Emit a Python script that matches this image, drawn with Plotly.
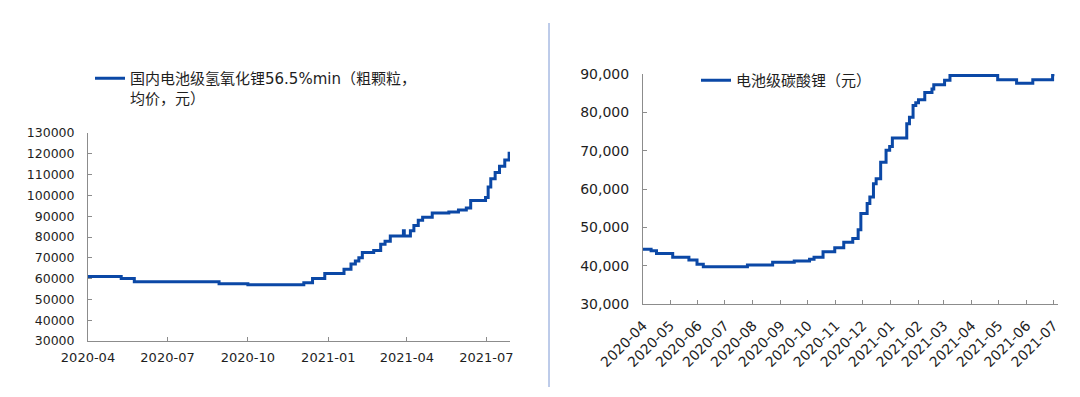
import plotly.graph_objects as go

# Left chart: 国内电池级氢氧化锂56.5%min（粗颗粒，均价，元）
left_dates = ["2020-04-01", "2020-05-09", "2020-05-24", "2020-08-29", "2020-10-01",
              "2020-12-04", "2020-12-14", "2020-12-28", "2021-01-19", "2021-01-27",
              "2021-02-01", "2021-02-05", "2021-02-09", "2021-02-22", "2021-03-02",
              "2021-03-07", "2021-03-13", "2021-03-28", "2021-03-29", "2021-04-05",
              "2021-04-09", "2021-04-14", "2021-04-19", "2021-04-30", "2021-05-19",
              "2021-05-30", "2021-06-08", "2021-06-13", "2021-06-30", "2021-07-03",
              "2021-07-06", "2021-07-11", "2021-07-16", "2021-07-22", "2021-07-27"]
left_values = [61000, 60000, 58500, 57500, 57000,
               58000, 60000, 62500, 64500, 67000,
               68500, 70000, 72500, 73500, 76500,
               78000, 80500, 83000, 80500, 83000,
               85500, 88000, 89500, 91500, 92000,
               93000, 94000, 97500, 99000, 104000,
               108000, 111000, 114000, 117000, 121000]

# Right chart: 电池级碳酸锂（元）
right_dates = ["2020-04-01", "2020-04-10", "2020-04-16", "2020-05-04", "2020-05-22",
               "2020-05-31", "2020-06-07", "2020-07-26", "2020-08-23", "2020-09-16",
               "2020-10-03", "2020-10-08", "2020-10-18", "2020-10-31", "2020-11-10",
               "2020-11-20", "2020-11-26", "2020-11-29", "2020-12-06", "2020-12-09",
               "2020-12-13", "2020-12-16", "2020-12-21", "2020-12-27", "2020-12-31",
               "2021-01-03", "2021-01-19", "2021-01-22", "2021-01-26", "2021-01-29",
               "2021-02-01", "2021-02-08", "2021-02-16", "2021-02-18", "2021-03-02",
               "2021-03-08", "2021-04-30", "2021-05-21", "2021-06-08", "2021-06-30",
               "2021-07-02"]
right_values = [44300, 43900, 43200, 42200, 41500,
                40400, 39700, 40200, 40900, 41200,
                41700, 42200, 43600, 44700, 46100,
                47100, 49400, 53600, 56200, 57900,
                61400, 62700, 67000, 70100, 71100,
                73300, 77000, 78700, 81800, 82500,
                83300, 85200, 86100, 87200, 88400,
                89600, 88500, 87600, 88500, 89800,
                89800]

left_name = "国内电池级氢氧化锂56.5%min（粗颗粒，<br>均价，元）"
right_name = "电池级碳酸锂（元）"

LINE = "#0b48a6"
AXIS = "#8c8c8c"
TXT = "#1e1e1e"
FONT = "DejaVu Sans, Noto Sans CJK SC, sans-serif"

# page body has an 8px margin; figure sized to fit the window exactly
OFF = 8
W, H = 1080 - 2 * OFF, 397 - 2 * OFF


def px(p):
    return (p - OFF) / W


def py(p):
    return 1 - (p - OFF) / H


fig = go.Figure()
fig.add_trace(go.Scatter(x=left_dates, y=left_values, mode="lines", name=left_name,
                         line=dict(color=LINE, width=3, shape="hv"),
                         xaxis="x", yaxis="y", legend="legend"))
fig.add_trace(go.Scatter(x=right_dates, y=right_values, mode="lines", name=right_name,
                         line=dict(color=LINE, width=3, shape="hv"),
                         xaxis="x2", yaxis="y2", legend="legend2"))

common_axis = dict(showgrid=False, zeroline=False, showline=True, linecolor=AXIS,
                   linewidth=1, ticks="inside", ticklen=4, tickcolor=AXIS,
                   automargin=False)

fig.update_layout(
    width=W, height=H,
    margin=dict(l=0, r=0, t=0, b=0, autoexpand=False),
    paper_bgcolor="white", plot_bgcolor="white",
    font=dict(family=FONT, color=TXT),
    xaxis=dict(domain=[px(88), px(510)], anchor="y", type="date",
               range=["2020-04-01", "2021-07-28"], tick0="2020-04-01", dtick="M3",
               tickformat="%Y-%m", ticklabelstandoff=4,
               tickfont=dict(family=FONT, color=TXT, size=13), **common_axis),
    yaxis=dict(domain=[py(341), py(133)], anchor="x", range=[30000, 130000],
               dtick=10000, tickformat="d", ticklabelstandoff=10,
               tickfont=dict(family=FONT, color=TXT, size=12.5), **common_axis),
    xaxis2=dict(domain=[px(643), px(1058)], anchor="y2", type="date",
                range=["2020-04-01", "2021-07-06"], tick0="2020-04-01", dtick="M1",
                tickformat="%Y-%m", tickangle=-45, ticklabelstandoff=7,
                tickfont=dict(family=FONT, color=TXT, size=14), **common_axis),
    yaxis2=dict(domain=[py(304), py(74)], anchor="x2", range=[30000, 90000],
                dtick=10000, tickformat=",", ticklabelstandoff=10,
                tickfont=dict(family=FONT, color=TXT, size=14), **common_axis),
    legend=dict(x=px(90), y=py(62), xanchor="left", yanchor="top", valign="top",
                bgcolor="rgba(0,0,0,0)", font=dict(family=FONT, size=15, color=TXT)),
    legend2=dict(x=px(696), y=py(64), xanchor="left", yanchor="top",
                 bgcolor="rgba(0,0,0,0)", font=dict(family=FONT, size=15, color=TXT)),
    showlegend=True,
)

fig.add_shape(type="line", xref="paper", yref="paper",
              x0=px(549), x1=px(549), y0=py(23), y1=py(387),
              line=dict(color="#7d98d4", width=1))

fig.write_html("out.html")
